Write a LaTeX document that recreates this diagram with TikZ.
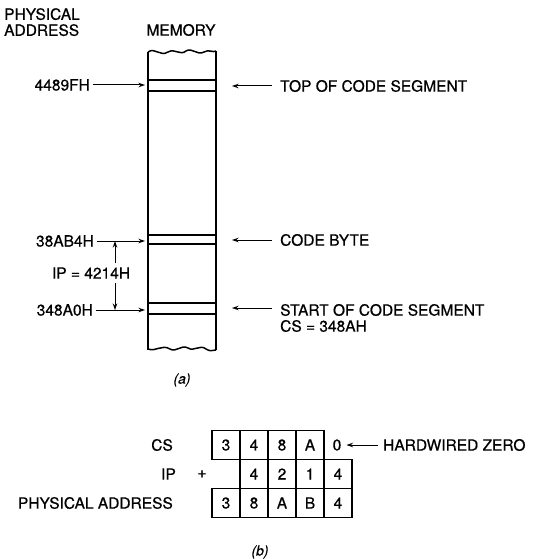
\documentclass[tikz,border=0pt]{standalone}
\usepackage{fontspec}
\setmainfont{TeX Gyre Heros}
\newfontfamily\medfont{TeX Gyre Heros}[FakeBold=0.6]
\newfontfamily\medital{TeX Gyre Heros Italic}[FakeBold=0.4]
\usetikzlibrary{arrows.meta}
\begin{document}
\begin{tikzpicture}[x=1pt,y=-1pt,
  lbl/.style={inner sep=0pt,font=\medfont\fontsize{15.5}{16}\selectfont},
  captext/.style={inner sep=0pt,font=\medital\fontsize{14}{16}\selectfont},
  arr/.style={line width=1pt,-{Stealth[length=6.5pt,width=4.5pt]}},
  wall/.style={line width=1.5pt},
  cell/.style={draw,line width=1.4pt,minimum width=28pt,minimum height=29pt,inner sep=0pt,font=\medfont\fontsize{15.5}{16}\selectfont}]
\useasboundingbox (0,0) rectangle (536,559);
% headings
\node[lbl,anchor=north west,align=left] (pa) at (4,8) {PHYSICAL\\ADDRESS};
\node[lbl] (mem) at (181,30) {MEMORY};
% memory column
\draw[wall] (148,52) .. controls (155,47) and (160,57) .. (168,52) .. controls (175,48) and (180,56) .. (186,51) .. controls (192,47) and (197,56) .. (204,52) .. controls (209,49) and (213,53) .. (216,51);
\draw[wall] (148,52) -- (148,350);
\draw[wall] (216,51) -- (216,350);
\draw[wall] (148,349) .. controls (156,352) and (162,344) .. (170,349) .. controls (176,353) and (181,344) .. (188,348) .. controls (194,352) and (200,344) .. (206,349) .. controls (210,352) and (213,350) .. (216,350);
\foreach \y in {80,91,235,244,303,314} \draw[line width=1.3pt] (148,\y) -- (216,\y);
% memory edge coordinates
\coordinate (mtopL) at (145,86);
\coordinate (mcbL) at (145,240);
\coordinate (mstL) at (145,309);
\coordinate (mstR) at (219,308);
% left labels
\node[lbl,anchor=east] (a1) at (90,85) {4489FH};
\node[lbl,anchor=east] (a2) at (94,241) {38AB4H};
\node[lbl,anchor=east] (a3) at (93,310) {348A0H};
\draw[arr] (a1.east) ++(3,0) coordinate (a1s) -- (a1s -| mtopL);
\draw[arr] (a2.east) ++(3,0) coordinate (a2s) -- (a2s -| mcbL);
\draw[arr] (a3.east) ++(3,0) coordinate (a3s) -- (a3s -| mstL);
% IP dimension
\node[lbl] (ip) at (91,273) {IP = 4214H};
\coordinate (dtop) at (115,241);
\coordinate (dbot) at (115,310);
\draw[arr] (ip.north -| dtop) ++(0,-4) -- (dtop);
\draw[arr] (ip.south -| dbot) ++(0,4) -- (dbot);
% right labels
\node[lbl,anchor=west] (r1) at (280,86) {TOP OF CODE SEGMENT};
\node[lbl,anchor=west] (r2) at (280,240) {CODE BYTE};
\node[lbl,anchor=west,align=left] (r3) at (280,318) {START OF CODE SEGMENT\\CS = 348AH};
\draw[arr] (r1.west) ++(-8,0) -- ++(-40,0);
\draw[arr] (r2.west) ++(-8,0) -- ++(-40,0);
\draw[arr] (r3.west |- mstR) ++(-8,0) -- ++(-40,0);
\node[captext] (capa) at (182,380) {(a)};
% part b
\foreach \t [count=\i] in {3,4,8,A} \node[cell] (c\i) at (212+28*\i-14,445) {\t};
\node[inner sep=0pt,font=\medfont\fontsize{15.5}{16}\selectfont] (c5) at (337,445) {0};
\foreach \t [count=\i from 2] in {4,2,1,4} \node[cell] (i\i) at (212+28*\i-14,474) {\t};
\foreach \t [count=\i] in {3,8,A,B,4} \node[cell] (p\i) at (212+28*\i-14,503) {\t};
\node[lbl,anchor=west] (hz) at (383,445) {HARDWIRED ZERO};
\draw[arr] (hz.west) ++(-5,0) -- ([xshift=5pt]c5.east);
\node[lbl,anchor=east] (lcs) at (173,445) {CS};
\node[lbl,anchor=east] (lip) at (176,474) {IP};
\node[lbl] (plus) at (202,474) {+};
\node[lbl,anchor=east] (lpa) at (173,503) {PHYSICAL ADDRESS};
\node[captext] (capb) at (260,552) {(b)};
\end{tikzpicture}
\end{document}
